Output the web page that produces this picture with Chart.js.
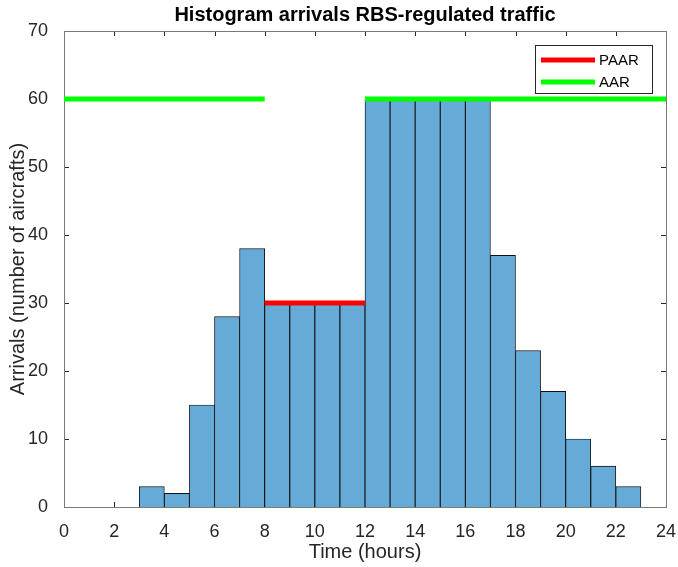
<!DOCTYPE html>
<html>
<head>
<meta charset="utf-8">
<script src="https://cdn.jsdelivr.net/npm/chart.js@4/dist/chart.umd.min.js"></script>
<style>
  html, body { margin: 0; padding: 0; background: #fff; }
  #wrap { width: 678px; height: 567px; }
</style>
</head>
<body>
<div id="wrap"><canvas id="c" width="678" height="567"></canvas></div>
<script>
// Hourly bins (left edge of each 1-hour bin) and arrivals counted in them
const binStarts = [3, 4, 5, 6, 7, 8, 9, 10, 11, 12, 13, 14, 15, 16, 17, 18, 19, 20, 21, 22];
const arrivals  = [3, 2, 15, 28, 38, 30, 30, 30, 30, 60, 60, 60, 60, 60, 37, 23, 17, 10, 6, 3];

// Planned / actual arrival rates (hour, rate); null splits the AAR line
const paarHours = [8, 12];
const paarRates = [30, 30];
const aarHours  = [0, 8, 8, 12, 24];
const aarRates  = [60, 60, null, 60, 60];

const xTicks = [0, 2, 4, 6, 8, 10, 12, 14, 16, 18, 20, 22, 24];
const yTicks = [0, 10, 20, 30, 40, 50, 60, 70];

const AXIS_COLOR = '#262626';
const FONT = '"Liberation Sans", Arial, Helvetica, sans-serif';

const histData = binStarts.map((h, i) => ({ x: h + 0.5, y: arrivals[i] }));
const paarData = paarHours.map((h, i) => ({ x: h, y: paarRates[i] }));
const aarData  = aarHours.map((h, i) => ({ x: h, y: aarRates[i] }));

// MATLAB-style box: inward ticks on all four sides plus top/right edges
const boxTicks = {
  id: 'boxTicks',
  beforeDatasetsDraw(chart) {
    const { ctx, chartArea: a, scales: { x, y } } = chart;
    const len = 5;
    ctx.save();
    ctx.strokeStyle = AXIS_COLOR;
    ctx.lineWidth = 1;
    ctx.beginPath();
    xTicks.forEach(v => {
      const px = Math.round(x.getPixelForValue(v)) + 0.5;
      ctx.moveTo(px, a.bottom); ctx.lineTo(px, a.bottom - len);
      ctx.moveTo(px, a.top); ctx.lineTo(px, a.top + len);
    });
    yTicks.forEach(v => {
      const py = Math.round(y.getPixelForValue(v)) + 0.5;
      ctx.moveTo(a.left, py); ctx.lineTo(a.left + len, py);
      ctx.moveTo(a.right, py); ctx.lineTo(a.right - len, py);
    });
    ctx.stroke();
    ctx.strokeStyle = '#7a7a7a';
    ctx.strokeRect(Math.round(a.left) + 0.5, Math.round(a.top) + 0.5,
                   Math.round(a.right - a.left), Math.round(a.bottom - a.top));
    ctx.restore();
  }
};

// Boxed legend in the upper-right corner of the axes for the line series
const boxLegend = {
  id: 'boxLegend',
  afterDraw(chart) {
    const { ctx, chartArea: a } = chart;
    const items = chart.data.datasets.filter(d => d.type === 'line');
    const bx = a.right - 131, by = a.top + 14, bw = 117, bh = 48;
    ctx.save();
    ctx.fillStyle = '#fff';
    ctx.fillRect(bx, by, bw, bh);
    ctx.strokeStyle = '#262626';
    ctx.lineWidth = 1;
    ctx.strokeRect(Math.round(bx) + 0.5, Math.round(by) + 0.5, bw, bh);
    ctx.font = '15px ' + FONT;
    ctx.textBaseline = 'middle';
    items.forEach((d, i) => {
      const cy = by + 15 + i * 22;
      ctx.strokeStyle = d.borderColor;
      ctx.lineWidth = 5;
      ctx.beginPath();
      ctx.moveTo(bx + 6, cy); ctx.lineTo(bx + 60, cy);
      ctx.stroke();
      ctx.fillStyle = '#000';
      ctx.fillText(d.label, bx + 64, cy + 1);
    });
    ctx.restore();
  }
};

new Chart(document.getElementById('c'), {
  type: 'bar',
  data: {
    datasets: [
      {
        type: 'line', label: 'PAAR', data: paarData,
        borderColor: '#ff0000', borderWidth: 5, pointRadius: 0,
        borderCapStyle: 'butt', spanGaps: false, order: 0
      },
      {
        type: 'line', label: 'AAR', data: aarData,
        borderColor: '#00ff00', borderWidth: 5, pointRadius: 0,
        borderCapStyle: 'butt', spanGaps: false, order: 0
      },
      {
        type: 'bar', label: 'Arrivals', data: histData,
        backgroundColor: 'rgb(102,170,215)', borderColor: '#111111',
        borderWidth: 0.9, barPercentage: 1, categoryPercentage: 1,
        order: 1
      }
    ]
  },
  options: {
    responsive: false,
    animation: false,
    layout: { padding: { left: 0, right: 12, top: 0, bottom: 0 } },
    plugins: {
      legend: { display: false },
      tooltip: { enabled: false },
      title: {
        display: true,
        fullSize: false,
        text: 'Histogram arrivals RBS-regulated traffic',
        color: '#000',
        font: { family: FONT, size: 20, weight: 'bold' },
        padding: { top: 3, bottom: 4 }
      }
    },
    scales: {
      x: {
        type: 'linear', min: 0, max: 24, offset: false,
        afterBuildTicks(s) { s.ticks = xTicks.map(v => ({ value: v })); },
        afterFit(s) { s.height = 60; s.paddingLeft = 0; s.paddingRight = 0; },
        grid: { display: false },
        border: { display: false },
        ticks: { color: AXIS_COLOR, padding: 6, maxRotation: 0, autoSkip: false,
                 font: { family: FONT, size: 18 } },
        title: { display: true, text: 'Time (hours)', color: AXIS_COLOR,
                 font: { family: FONT, size: 20 }, padding: { top: 0, bottom: 3 } }
      },
      y: {
        type: 'linear', min: 0, max: 70,
        afterBuildTicks(s) { s.ticks = yTicks.map(v => ({ value: v })); },
        afterFit(s) { s.width = 64; s.paddingTop = 0; s.paddingBottom = 0; },
        grid: { display: false },
        border: { display: false },
        ticks: { color: AXIS_COLOR, padding: 8, font: { family: FONT, size: 18 } },
        title: { display: true, text: 'Arrivals (number of aircrafts)', color: AXIS_COLOR,
                 font: { family: FONT, size: 20 }, padding: { top: 6, bottom: 0 } }
      }
    }
  },
  plugins: [boxTicks, boxLegend]
});
</script>
</body>
</html>
